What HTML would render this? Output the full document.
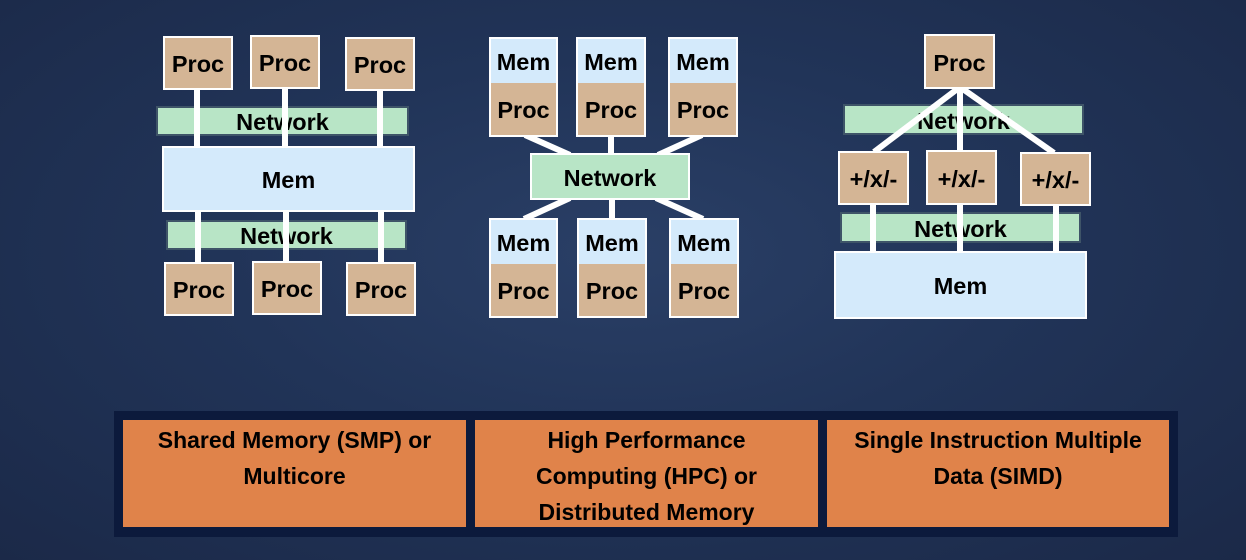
<!DOCTYPE html>
<html><head><style>
html,body{margin:0;padding:0}
body{width:1246px;height:560px;position:relative;overflow:hidden;background:radial-gradient(ellipse at 50% 45%,#2a3f66 0%,#213458 45%,#1b2948 100%);font-family:"Liberation Sans",sans-serif}
.b{position:absolute;box-sizing:border-box;border:2px solid #fff;display:flex;align-items:center;justify-content:center;font-weight:bold;font-size:23.5px;color:#000;padding-top:3px}
.p{background:#d4b595}
.m{background:#d4eafb}
.n{background:#b8e5c6;border:2px solid #3e5468}
.o{position:absolute;box-sizing:border-box;background:#e0834a;color:#000;font-weight:bold;font-size:23px;text-align:center;line-height:36px;padding-top:2px;font-family:"Liberation Sans",sans-serif}
svg{position:absolute;left:0;top:0}
</style></head><body>
<div class="b n" style="left:156px;top:106px;width:253px;height:30px">Network</div>
<div class="b n" style="left:166px;top:220px;width:241px;height:30px">Network</div>
<svg width="1246" height="560" style="z-index:1">
<g stroke="#fff" stroke-width="6">
<line x1="197" y1="88" x2="197" y2="148"/><line x1="285" y1="88" x2="285" y2="148"/><line x1="380" y1="88" x2="380" y2="148"/>
<line x1="198" y1="210" x2="198" y2="264"/><line x1="286" y1="210" x2="286" y2="264"/><line x1="381" y1="210" x2="381" y2="264"/>
<line x1="525" y1="135" x2="570" y2="155"/><line x1="611" y1="135" x2="611" y2="155"/><line x1="702" y1="135" x2="658" y2="155"/>
<line x1="524" y1="219" x2="570" y2="198"/><line x1="612" y1="198" x2="612" y2="219"/><line x1="703" y1="219" x2="656" y2="198"/>
<line x1="873" y1="203" x2="873" y2="253"/><line x1="960" y1="203" x2="960" y2="253"/><line x1="1056" y1="204" x2="1056" y2="253"/>
</g></svg>
<div class="b p" style="left:163px;top:36px;width:70px;height:54px;z-index:2">Proc</div>
<div class="b p" style="left:250px;top:35px;width:70px;height:54px;z-index:2">Proc</div>
<div class="b p" style="left:345px;top:37px;width:70px;height:54px;z-index:2">Proc</div>
<div class="b m" style="left:162px;top:146px;width:253px;height:66px;z-index:2">Mem</div>
<div class="b p" style="left:164px;top:262px;width:70px;height:54px;z-index:2">Proc</div>
<div class="b p" style="left:252px;top:261px;width:70px;height:54px;z-index:2">Proc</div>
<div class="b p" style="left:346px;top:262px;width:70px;height:54px;z-index:2">Proc</div>
<div class="b m" style="left:489px;top:37px;width:69px;height:48px;z-index:2">Mem</div>
<div class="b p" style="left:489px;top:83px;width:69px;height:54px;z-index:2;border-top:none">Proc</div>
<div class="b m" style="left:576px;top:37px;width:70px;height:48px;z-index:2">Mem</div>
<div class="b p" style="left:576px;top:83px;width:70px;height:54px;z-index:2;border-top:none">Proc</div>
<div class="b m" style="left:668px;top:37px;width:70px;height:48px;z-index:2">Mem</div>
<div class="b p" style="left:668px;top:83px;width:70px;height:54px;z-index:2;border-top:none">Proc</div>
<div class="b" style="left:530px;top:153px;width:160px;height:47px;z-index:2;background:#b8e5c6">Network</div>
<div class="b m" style="left:489px;top:218px;width:69px;height:48px;z-index:2">Mem</div>
<div class="b p" style="left:489px;top:264px;width:69px;height:54px;z-index:2;border-top:none">Proc</div>
<div class="b m" style="left:577px;top:218px;width:70px;height:48px;z-index:2">Mem</div>
<div class="b p" style="left:577px;top:264px;width:70px;height:54px;z-index:2;border-top:none">Proc</div>
<div class="b m" style="left:669px;top:218px;width:70px;height:48px;z-index:2">Mem</div>
<div class="b p" style="left:669px;top:264px;width:70px;height:54px;z-index:2;border-top:none">Proc</div>
<div class="b n" style="left:843px;top:104px;width:241px;height:31px">Network</div>
<div class="b n" style="left:840px;top:212px;width:241px;height:31px">Network</div>
<svg width="1246" height="560" style="z-index:3"><g stroke="#fff" stroke-width="6">
<line x1="960" y1="87" x2="874" y2="152"/><line x1="960" y1="87" x2="960" y2="151"/><line x1="960" y1="87" x2="1054" y2="153"/></g></svg>
<div class="b p" style="left:924px;top:34px;width:71px;height:55px;z-index:4">Proc</div>
<div class="b p" style="left:838px;top:151px;width:71px;height:54px;z-index:4">+/x/-</div>
<div class="b p" style="left:926px;top:150px;width:71px;height:55px;z-index:4">+/x/-</div>
<div class="b p" style="left:1020px;top:152px;width:71px;height:54px;z-index:4">+/x/-</div>
<div class="b m" style="left:834px;top:251px;width:253px;height:68px;z-index:4">Mem</div>
<div style="position:absolute;left:114px;top:411px;width:1064px;height:126px;background:#0c1a3c"></div>
<div class="o" style="left:123px;top:420px;width:343px;height:107px">Shared Memory (SMP) or<br>Multicore</div>
<div class="o" style="left:475px;top:420px;width:343px;height:107px">High Performance<br>Computing (HPC) or<br>Distributed Memory</div>
<div class="o" style="left:827px;top:420px;width:342px;height:107px">Single Instruction Multiple<br>Data (SIMD)</div>
</body></html>
